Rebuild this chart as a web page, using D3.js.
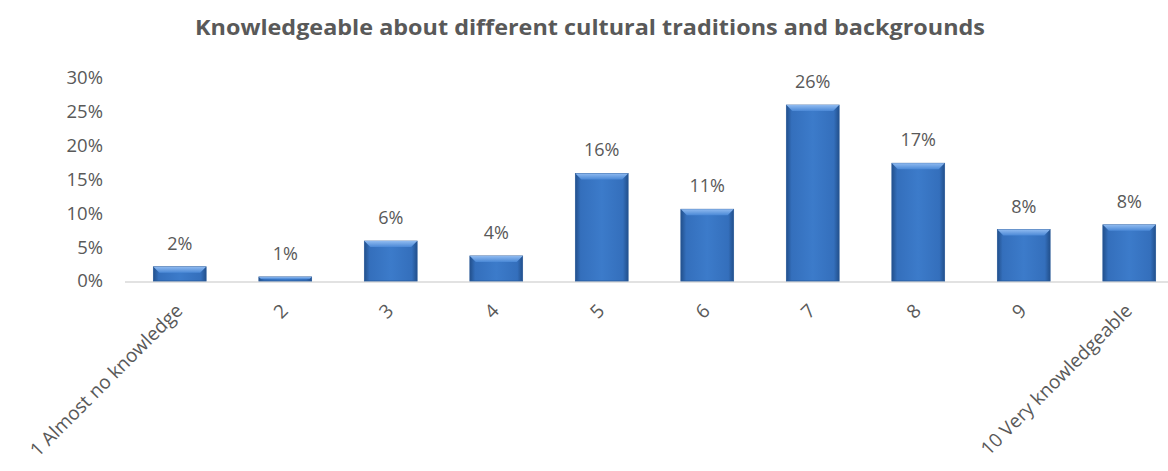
<!DOCTYPE html>
<html>
<head>
<meta charset="utf-8">
<script src="https://cdn.jsdelivr.net/npm/d3@7"></script>
<style>
  html, body { margin: 0; padding: 0; background: #ffffff; }
  svg { display: block; }
</style>
</head>
<body>
<svg id="chart" width="1168" height="471"></svg>
<script>
// Survey responses: self-rated knowledge of cultural traditions (share of respondents)
const categories = ["1 Almost no knowledge", "2", "3", "4", "5", "6", "7", "8", "9", "10 Very knowledgeable"];
const shares = [0.021, 0.006, 0.059, 0.037, 0.159, 0.106, 0.26, 0.174, 0.076, 0.083];
const yTicks = [0, 0.05, 0.10, 0.15, 0.20, 0.25, 0.30];
const titleText = "Knowledgeable about different cultural traditions and backgrounds";

const svg = d3.select("#chart");
const W = 1168, H = 471;
const textColor = "#595959";
const font = "'Open Sans', 'Liberation Sans', sans-serif";
const pct = d3.format(".0%");

const x = d3.scaleBand().domain(categories).range([127, 1182]).paddingInner(0.5).paddingOuter(0.25);
const y = d3.scaleLinear().domain([0, 0.30]).range([281, 78]);

// Gradients for the bevelled bars
const defs = svg.append("defs");
const body = defs.append("linearGradient").attr("id", "barBody").attr("x1", "0").attr("x2", "1").attr("y1", "0").attr("y2", "0");
body.append("stop").attr("offset", "0").attr("stop-color", "#22508c");
body.append("stop").attr("offset", "0.1").attr("stop-color", "#346fbc");
body.append("stop").attr("offset", "0.5").attr("stop-color", "#3c7bca");
body.append("stop").attr("offset", "0.9").attr("stop-color", "#346fbc");
body.append("stop").attr("offset", "1").attr("stop-color", "#22508c");
const topBevel = defs.append("linearGradient").attr("id", "barTop").attr("x1", "0").attr("x2", "0").attr("y1", "0").attr("y2", "1");
topBevel.append("stop").attr("offset", "0").attr("stop-color", "#8fbaf0");
topBevel.append("stop").attr("offset", "1").attr("stop-color", "#4a88d6");

// Title
svg.append("text")
  .attr("x", 590).attr("y", 35)
  .attr("text-anchor", "middle")
  .attr("font-family", font).attr("font-weight", 700)
  .attr("font-size", 21)
  .attr("fill", textColor)
  .attr("textLength", 790).attr("lengthAdjust", "spacingAndGlyphs")
  .text(titleText);

// Y axis labels
const yAxis = d3.axisLeft(y).tickValues(yTicks).tickFormat(pct).tickSize(0).tickPadding(0);
const yG = svg.append("g").attr("transform", "translate(103,0)").call(yAxis);
yG.select(".domain").remove();
yG.selectAll("text").attr("font-family", font).attr("font-size", 18.5).attr("fill", textColor);

// Baseline
svg.append("line")
  .attr("x1", 125).attr("x2", W)
  .attr("y1", y(0) + 1).attr("y2", y(0) + 1)
  .attr("stroke", "#d9d9d9").attr("stroke-width", 1.5);

// Bars
const bars = svg.append("g").selectAll("g.bar").data(categories.map((c, i) => ({ c, v: shares[i] })))
  .join("g").attr("class", "bar");

bars.append("rect")
  .attr("x", d => x(d.c))
  .attr("y", d => y(d.v))
  .attr("width", x.bandwidth())
  .attr("height", d => y(0) - y(d.v))
  .attr("fill", "url(#barBody)")
  .attr("stroke", "#2a5a99").attr("stroke-width", 0.8);

// Light bevel along each bar's top edge
bars.append("path")
  .attr("d", d => {
    const x0 = x(d.c), x1 = x0 + x.bandwidth();
    const top = y(d.v);
    const h = Math.min(6, (y(0) - top) / 2);
    return `M${x0},${top} L${x1},${top} L${x1 - h},${top + h} L${x0 + h},${top + h} Z`;
  })
  .attr("fill", "url(#barTop)");

// Value labels
bars.append("text")
  .attr("x", d => x(d.c) + x.bandwidth() / 2)
  .attr("y", d => y(d.v) - 17)
  .attr("text-anchor", "middle")
  .attr("font-family", font).attr("font-size", 18)
  .attr("fill", textColor)
  .text(d => pct(d.v));

// Category labels, rotated
svg.append("g").selectAll("text").data(categories).join("text")
  .attr("transform", d => `translate(${x(d) + x.bandwidth() / 2 + 4},${312}) rotate(-45)`)
  .attr("text-anchor", "end")
  .attr("font-family", font).attr("font-size", 19)
  .attr("fill", textColor)
  .text(d => d);
</script>
</body>
</html>
